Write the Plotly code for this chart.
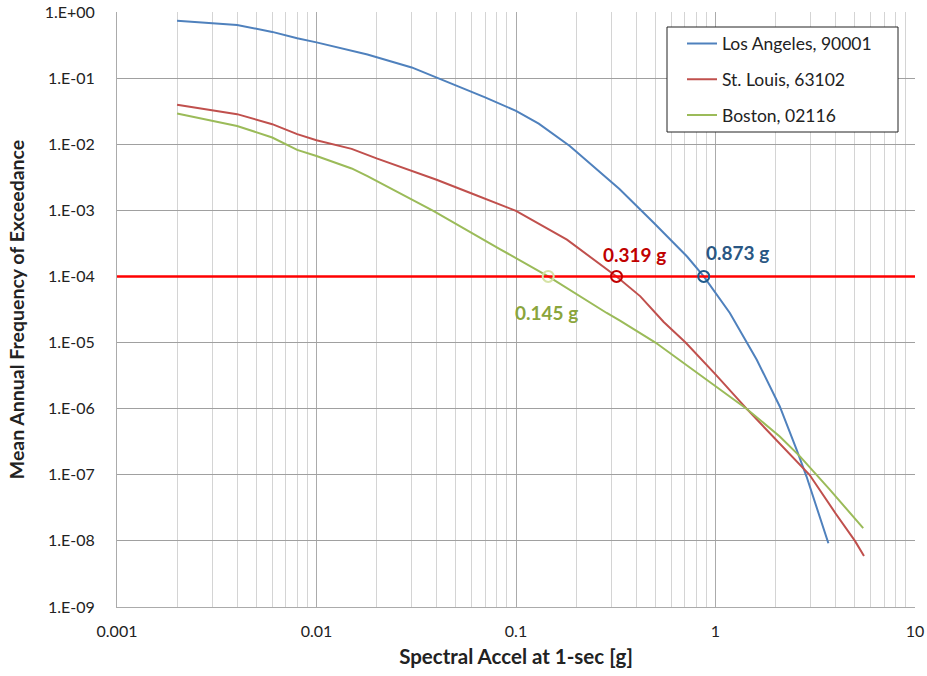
import math
import plotly.graph_objects as go

# ---- data ----
la_x = [0.002, 0.004, 0.006, 0.008, 0.01, 0.0147, 0.018, 0.03, 0.04, 0.05, 0.07, 0.1, 0.13,
        0.186, 0.33, 0.49, 0.72, 0.873, 1.18, 1.61, 2.1, 2.55, 2.86, 3.68]
la_y = [0.74, 0.635, 0.50, 0.40, 0.347, 0.268, 0.228, 0.145, 0.1025, 0.078, 0.051, 0.032, 0.0205,
        0.0094, 0.0021, 6.5e-4, 2.0e-4, 1.0e-4, 2.8e-5, 5.5e-6, 1.08e-6, 2.4e-7, 9.4e-8, 9.2e-9]

stl_x = [0.002, 0.004, 0.006, 0.008, 0.01, 0.015, 0.02, 0.04, 0.06, 0.1, 0.18, 0.319, 0.42,
         0.55, 0.708, 1.0, 1.43, 2.0, 2.96, 4.0, 5.0, 5.55]
stl_y = [0.0394, 0.0285, 0.0201, 0.0142, 0.0115, 0.0085, 0.0061, 0.0029, 0.0018, 0.00098, 0.00036,
         1.0e-4, 5.0e-5, 2.05e-5, 1.0e-5, 3.3e-6, 1.0e-6, 3.5e-7, 1.0e-7, 2.6e-8, 1.0e-8, 5.9e-9]

bos_x = [0.002, 0.004, 0.006, 0.008, 0.01, 0.015, 0.018, 0.0385, 0.083, 0.132, 0.145, 0.285,
         0.332, 0.5, 0.836, 1.43, 2.1, 2.65, 3.75, 5.5]
bos_y = [0.0292, 0.0189, 0.01264, 0.0082, 0.00665, 0.0043, 0.0033, 0.00098, 0.00026, 1.18e-4,
         1.0e-4, 2.8e-5, 2.15e-5, 1.0e-5, 3.2e-6, 1.0e-6, 3.8e-7, 1.9e-7, 5.9e-8, 1.56e-8]

series_names = ["Los Angeles, 90001", "St. Louis, 63102", "Boston, 02116"]
series_colors = ["#4F81BD", "#C0504D", "#9BBB59"]

threshold = 1e-4
threshold_x = [0.001, 10]

cross_x = [0.145, 0.319, 0.873]
cross_labels = ["0.145 g", "0.319 g", "0.873 g"]
cross_marker_colors = ["#D6E3A6", "#C00000", "#1F5A8C"]
cross_text_colors = ["#8AA53C", "#C00000", "#2A5783"]

y_tickvals = [10.0 ** (-k) for k in range(0, 10)]
y_ticktext = ["1.E+00"] + ["1.E-%02d" % k for k in range(1, 10)]
x_tickvals = [0.001, 0.01, 0.1, 1, 10]
x_ticktext = ["0.001", "0.01", "0.1", "1", "10"]

FONT = "Lato"
TXT = "#222222"

fig = go.Figure()
for i, (xs, ys) in enumerate([(la_x, la_y), (stl_x, stl_y), (bos_x, bos_y)]):
    fig.add_trace(go.Scatter(x=xs, y=ys, mode="lines", name=series_names[i],
                             legendgroup=series_names[i],
                             line=dict(color=series_colors[i], width=2)))

fig.add_trace(go.Scatter(x=threshold_x, y=[threshold, threshold], mode="lines",
                         line=dict(color="#FF0000", width=2.5), showlegend=False,
                         hoverinfo="skip"))

fig.add_trace(go.Scatter(x=cross_x, y=[threshold] * 3, mode="markers", showlegend=False,
                         marker=dict(symbol="circle-open", size=11,
                                     color=cross_marker_colors,
                                     line=dict(width=2, color=cross_marker_colors))))

# annotations on log axes take log10 coordinates
shifts = [(-2, -36), (18, 22), (34, 24)]
for i in range(3):
    fig.add_annotation(x=math.log10(cross_x[i]), y=math.log10(threshold), xref="x", yref="y",
                       text="<b>%s</b>" % cross_labels[i], showarrow=False,
                       xshift=shifts[i][0], yshift=shifts[i][1],
                       font=dict(family=FONT, size=19, color=cross_text_colors[i]))

# legend frame (box is wider than plotly's auto-sized legend)
fig.add_shape(type="rect", xref="paper", yref="paper",
              x0=(667 - 117) / 798, x1=(898 - 117) / 798,
              y0=1 - (132 - 12) / 595, y1=1 - (27 - 12) / 595,
              line=dict(color="#222222", width=1), fillcolor="white", layer="above")

fig.update_layout(
    width=927, height=676,
    margin=dict(l=117, r=12, t=12, b=69),
    paper_bgcolor="white", plot_bgcolor="white",
    font=dict(family=FONT, size=16, color=TXT),
    showlegend=True,
    legend=dict(x=(682 - 117) / 798, y=0.977, xanchor="left", yanchor="top",
                borderwidth=0, bgcolor="rgba(0,0,0,0)",
                font=dict(family=FONT, size=17.5, color=TXT),
                tracegroupgap=10, itemwidth=30),
    xaxis=dict(type="log", range=[-3, 1], tickvals=x_tickvals, ticktext=x_ticktext,
               automargin=False,
               showgrid=True, gridcolor="#ABABAB", gridwidth=1,
               minor=dict(dtick="D1", showgrid=True, gridcolor="#D4D4D4", gridwidth=1, ticks=""),
               showline=True, linecolor="#ABABAB", linewidth=1, zeroline=False,
               ticks="", ticklabelstandoff=10,
               tickfont=dict(family=FONT, size=16, color=TXT),
               title=dict(text="<b>Spectral Accel at 1-sec [g]</b>", standoff=10,
                          font=dict(family=FONT, size=20.5, color=TXT))),
    yaxis=dict(type="log", range=[-9, 0], tickvals=y_tickvals, ticktext=y_ticktext,
               automargin=False,
               showgrid=True, gridcolor="#A0A0A0", gridwidth=1,
               showline=True, linecolor="#ABABAB", linewidth=1, zeroline=False,
               ticks="", ticklabelstandoff=18,
               tickfont=dict(family=FONT, size=16, color=TXT),
               title=dict(text="<b>Mean Annual Frequency of Exceedance</b>", standoff=14,
                          font=dict(family=FONT, size=19.5, color=TXT))),
)

fig.write_html("out.html")
